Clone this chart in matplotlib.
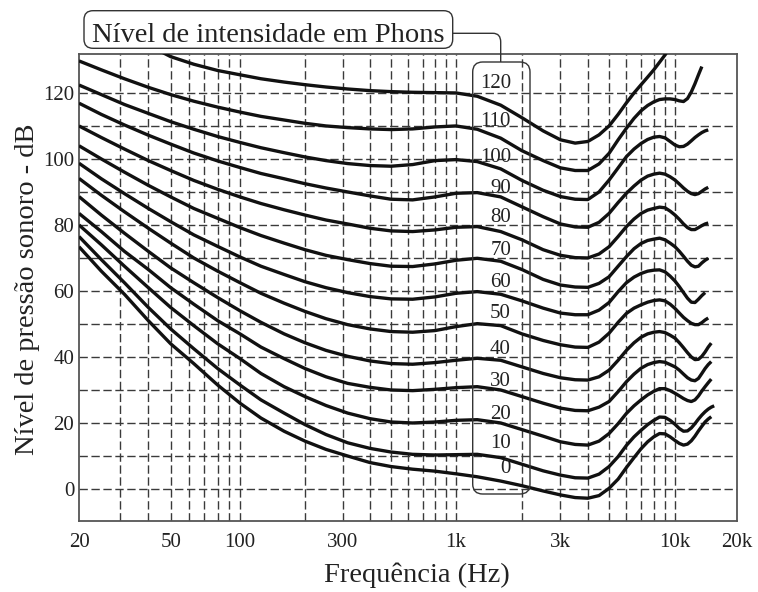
import numpy as np
import matplotlib
matplotlib.use("Agg")
import matplotlib.pyplot as plt
from matplotlib.patches import FancyBboxPatch, PathPatch
from matplotlib.path import Path
from matplotlib.transforms import IdentityTransform

plt.rcParams['font.family'] = ['Liberation Serif', 'DejaVu Serif']

nan = np.nan

# ---------------- data ----------------
freq_hz = [20, 25, 31.5, 40, 50, 63, 80,
           100, 125, 160, 200, 250, 315, 400,
           500, 630, 800, 1000, 1250, 1600, 2000,
           2500, 3000, 3500, 4000, 4500, 5000, 5500, 6000, 6500,
           7000, 7500, 8000, 8500, 9000, 9500, 10000, 10500, 11000,
           11500, 12000, 12500, 13000, 13500, 14000, 14500, 15000, 15500]

phon_levels = [0, 10, 20, 30, 40, 50, 60, 70, 80, 90, 100, 110, 120]

spl_0 = [73.4, 66, 59, 51, 44, 38, 31.5,
         26, 21.5, 17.5, 14.5, 12, 10, 8,
         6.8, 6, 5.4, 4.6, 3.7, 2.4, 1,
         -0.6, -1.8, -2.6, -2.8, -2, 0.2, 3, 6.5, 9.5,
         12.2, 14.3, 15.8, 16.8, 16.7, 15.8, 14.7, 13.8, 13.3,
         13.6, 14.6, 16, 17.6, 19, 20.3, 21.2, 21.9, nan]
spl_10 = [76.5, 69.5, 62.5, 55, 48.5, 42.5, 36.5,
          31.5, 27, 23, 19.5, 16.5, 14, 12.3,
          11.2, 10.5, 10.3, 10.4, 10.5, 9.5, 7.5,
          5.5, 4.2, 3.4, 3.3, 4.5, 6.8, 9.8, 13.2, 15.8,
          17.8, 19.5, 20.8, 21.8, 21.7, 20.8, 19.6, 18.3, 17.5,
          17.6, 18.5, 19.8, 21.2, 22.4, 23.4, 24.2, 24.8, 25.2]
spl_20 = [80, 74, 67.5, 61, 55, 49.5, 44,
          39.5, 35, 31, 28, 25.3, 23, 21.3,
          20.3, 20, 20.3, 20.8, 21, 20, 18,
          16, 14.3, 13.5, 13.3, 14.5, 16.8, 19.8, 22.9, 25.2,
          27, 28.5, 29.6, 30.4, 30.4, 29.8, 29, 28.2, 27.4,
          26.8, 26.5, 27, 28.2, 29.7, 31, 32.2, 33.3, nan]
spl_30 = [83.5, 78, 72, 66.5, 61, 56, 51,
          47, 43, 39.5, 36.5, 34, 32, 30.8,
          30, 29.8, 30.2, 30.7, 31, 30, 28,
          26, 24.5, 23.8, 23.7, 24.8, 26.5, 29.5, 32.5, 34.8,
          36.6, 37.7, 38.3, 38.6, 38.4, 37.7, 37, 36, 34.8,
          33.7, 33, 32.8, 33.5, 35, 36.5, 37.7, 38.6, nan]
spl_40 = [88.6, 83, 77.5, 72, 67, 62.5, 58,
          54, 50.5, 47, 44.3, 42, 40.2, 38.8,
          38, 37.8, 38.3, 39, 39.6, 39, 37,
          35, 33.7, 33.1, 33, 34, 36, 39, 42, 44.3,
          46, 47, 47.5, 47.7, 47.4, 46.6, 45.7, 44.3, 42.8,
          41.3, 40, 39.2, 39.3, 40.2, 41.5, 43, 44.2, nan]
spl_50 = [94.1, 89, 84, 79, 74.5, 70, 66,
          62.5, 59.3, 56.3, 53.8, 51.6, 49.8, 48.5,
          47.7, 47.5, 48, 49.2, 50.1, 49.5, 47,
          45, 43.7, 43, 42.9, 44.5, 47.2, 50.5, 53.2, 54.8,
          55.8, 56.6, 57.1, 57.3, 57, 56, 54.7, 53.3, 52,
          51, 50.2, 49.8, 49.8, 50.4, 51.2, 51.8, nan, nan]
spl_60 = [98.7, 94, 89.5, 85, 81, 77, 73.5,
          70.3, 67.5, 65, 62.8, 61, 59.5, 58.3,
          57.6, 57.5, 58.2, 59.3, 59.8, 59, 57,
          54.8, 53.3, 52.8, 52.8, 54.2, 56.5, 59.8, 62.5, 64.2,
          65.3, 66, 66.3, 66.4, 65.8, 64.5, 63, 61.3, 59.5,
          57.8, 56.6, 56.5, 57.5, 58.6, 59.5, nan, nan, nan]
spl_70 = [104, 100, 96, 92, 88.5, 85, 82,
          79.2, 76.8, 74.5, 72.5, 70.8, 69.5, 68.3,
          67.5, 67.4, 68.2, 69.3, 69.9, 69, 66.5,
          63.5, 61.8, 61.2, 61.1, 62.3, 64.3, 67.5, 70.4, 72.8,
          74.4, 75.3, 75.7, 76, 75.5, 74.5, 73.4, 72, 70.5,
          69, 67.8, 67.3, 67.5, 68.5, 69.3, 69.9, nan, nan]
spl_80 = [110, 106.5, 103, 99.5, 96.5, 93.5, 90.8,
          88.5, 86.5, 84.6, 83, 81.5, 80.3, 79,
          78.2, 78, 78.5, 79.3, 79.5, 78, 75.5,
          72.5, 70.8, 70.1, 70, 71.2, 73.4, 76.5, 79.5, 81.8,
          83.5, 84.5, 85, 85.4, 85.2, 84.2, 83, 81.7, 80.3,
          79.2, 78.6, 78.6, 79.2, 79.8, 80.3, 80.6, nan, nan]
spl_90 = [116.9, 113.5, 110.3, 107.2, 104.5, 101.8, 99.4,
          97.4, 95.6, 94, 92.5, 91.2, 90, 88.8,
          87.8, 87.6, 88.5, 89.6, 89.8, 88.5, 85.5,
          82.5, 80.3, 79.4, 79.3, 80.8, 83.5, 86.8, 89.6, 91.8,
          93.6, 94.8, 95.4, 95.7, 95.4, 94.6, 93.6, 92.4, 91.2,
          90.2, 89.5, 89.2, 89.5, 90.2, 90.9, 91.4, nan, nan]
spl_100 = [122.4, 119.5, 116.5, 113.8, 111.3, 109, 106.8,
           105, 103.4, 101.9, 100.6, 99.5, 98.6, 98,
           97.8, 98.3, 99.5, 99.8, 99.2, 97, 93.5,
           90.5, 88.6, 87.8, 87.7, 90, 93.6, 97.3, 100.7, 103,
           104.7, 105.9, 106.6, 106.8, 106.4, 105.3, 104.2, 103.7, 103.8,
           104.5, 105.5, 106.5, 107.3, 108, 108.5, 108.8, nan, nan]
spl_110 = [129.7, 127, 124.3, 121.7, 119.5, 117.5, 115.7,
           114.2, 112.9, 111.8, 110.8, 110, 109.5, 109.1,
           108.9, 109.1, 109.7, 110, 109, 106.3, 102.5,
           99.5, 97.3, 96.5, 96.5, 98.5, 101.7, 105.8, 109.3, 112.3,
           114.6, 116.2, 117.3, 118, 118.2, 118.2, 118, 117.6, 117.4,
           118.3, 120.3, 122.8, 125.5, 128, nan, nan, nan, nan]
spl_120 = [nan, nan, nan, 134.5, 131, 128.7, 126.8,
           125.5, 124.3, 123.3, 122.5, 121.8, 121.2, 120.7,
           120.4, 120.2, 120.1, 120, 119, 116.3, 112.5,
           108.5, 105.8, 104.8, 105.3, 107.3, 110, 113.5, 117, 120,
           122.5, 124.8, 127, 129.3, 131.5, 134, nan, nan, nan,
           nan, nan, nan, nan, nan, nan, nan, nan, nan]

curves = [spl_0, spl_10, spl_20, spl_30, spl_40, spl_50, spl_60,
          spl_70, spl_80, spl_90, spl_100, spl_110, spl_120]

label_db = [6.1, 13.8, 22.7, 32.6, 42.4, 53.2, 62.6, 72.4, 82.3, 90.9, 100.5, 111.4, 123]

x_tick_values = [20, 50, 100, 300, 1000, 3000, 10000, 20000]
x_tick_labels = ['20', '50', '100', '300', '1k', '3k', '10k', '20k']
x_grid_values = [30, 40, 50, 60, 70, 80, 90, 100,
                 200, 300, 400, 500, 600, 700, 800, 900, 1000,
                 2000, 3000, 4000, 5000, 6000, 7000, 8000, 9000, 10000]
y_tick_values = [0, 20, 40, 60, 80, 100, 120]
y_grid_values = [0, 10, 20, 30, 40, 50, 60, 70, 80, 90, 100, 110, 120]

title_text = 'Nível de intensidade em Phons'
x_label = 'Frequência (Hz)'
y_label = 'Nível de pressão sonoro - dB'

# ---------------- figure ----------------
W, H = 758, 592
fig = plt.figure(figsize=(W / 100, H / 100), dpi=100)
fig.patch.set_facecolor('white')
ax = fig.add_axes([79 / W, 1 - 521 / H, (737 - 79) / W, (521 - 54) / H])

# hand-drawn style log axis: piecewise log mapping through the printed decades
kn_f = np.log10([20, 100, 1000, 10000, 20000])
kn_p = np.array([79, 240, 456, 675, 737], float)


def fwd(x):
    x = np.asarray(x, float)
    with np.errstate(divide='ignore', invalid='ignore'):
        lx = np.log10(np.where(x > 0, x, np.nan))
    out = np.interp(lx, kn_f, kn_p)
    s0 = (kn_p[1] - kn_p[0]) / (kn_f[1] - kn_f[0])
    s1 = (kn_p[-1] - kn_p[-2]) / (kn_f[-1] - kn_f[-2])
    out = np.where(lx < kn_f[0], kn_p[0] + (lx - kn_f[0]) * s0, out)
    out = np.where(lx > kn_f[-1], kn_p[-1] + (lx - kn_f[-1]) * s1, out)
    out = np.where(np.isnan(lx), np.nan, out)
    return out


def inv(p):
    p = np.asarray(p, float)
    out = np.interp(p, kn_p, kn_f)
    s0 = (kn_p[1] - kn_p[0]) / (kn_f[1] - kn_f[0])
    s1 = (kn_p[-1] - kn_p[-2]) / (kn_f[-1] - kn_f[-2])
    out = np.where(p < kn_p[0], kn_f[0] + (p - kn_p[0]) / s0, out)
    out = np.where(p > kn_p[-1], kn_f[-1] + (p - kn_p[-1]) / s1, out)
    return 10 ** out


ax.set_xscale('function', functions=(fwd, inv))
ax.set_xlim(20, 20000)
ax.set_ylim(-9.7, 131.8)

grid_kw = dict(color='#3a3a3a', lw=1.0, ls=(0, (6, 2.6)), zorder=1)
for gx in x_grid_values:
    ax.axvline(gx, **grid_kw)
for gy in y_grid_values:
    ax.axhline(gy, **grid_kw)

for spl in curves:
    ax.plot(freq_hz, spl, color='#111111', lw=2.4, solid_capstyle='butt',
            solid_joinstyle='round', zorder=3)

ax.set_xticks(x_tick_values)
ax.set_xticklabels(x_tick_labels)
ax.set_xticks([], minor=True)
ax.set_yticks(y_tick_values)
ax.set_yticks([], minor=True)
ax.tick_params(axis='both', length=0, labelsize=15, colors='#222222')
ax.tick_params(axis='x', pad=8.5)
ax.tick_params(axis='y', pad=3.5)

for sp in ax.spines.values():
    sp.set_color('#555555')
    sp.set_linewidth(1.3)

ax.set_xlabel(x_label, fontsize=20.5, color='#222222')
ax.xaxis.set_label_coords((417 - 79) / 658, -(575 - 521) / 467)
ax.xaxis.label.set_va('center')
ax.set_ylabel(y_label, fontsize=20.5, color='#222222')
ax.yaxis.set_label_coords(-(79 - 28) / 658, (521 - 289) / 467)
ax.yaxis.label.set_va('center')

# phon labels
ytr = ax.get_yaxis_transform()
for lvl, ly in zip(phon_levels, label_db):
    ax.text((511 - 79) / 658, ly, str(lvl), transform=ytr, ha='right', va='center',
            fontsize=15, color='#222222', zorder=4)

# annotation boxes in pixel coordinates (origin bottom-left)
pix = IdentityTransform()
title_box = FancyBboxPatch((84, H - 48.3), 452.7 - 84, 48.3 - 10.7,
                           boxstyle='round,pad=0,rounding_size=9',
                           fc='white', ec='#333333', lw=1.0, transform=pix)
fig.add_artist(title_box)
fig.text(268.5, H - 41.5, title_text, transform=pix, ha='center', va='baseline',
         fontsize=20.5, color='#222222')

conn = Path([(452.7, H - 33.3), (493, H - 33.3), (500.7, H - 33.3), (500.7, H - 42),
             (500.7, H - 62)],
            [Path.MOVETO, Path.LINETO, Path.CURVE3, Path.CURVE3, Path.LINETO])
fig.add_artist(PathPatch(conn, fc='none', ec='#333333', lw=1.0, transform=pix))

phon_box = FancyBboxPatch((472.7, H - 494), 530 - 472.7, 494 - 62,
                          boxstyle='round,pad=0,rounding_size=10',
                          fc='none', ec='#333333', lw=1.0, transform=pix, zorder=5)
fig.add_artist(phon_box)

fig.savefig('out.png', dpi=100)
